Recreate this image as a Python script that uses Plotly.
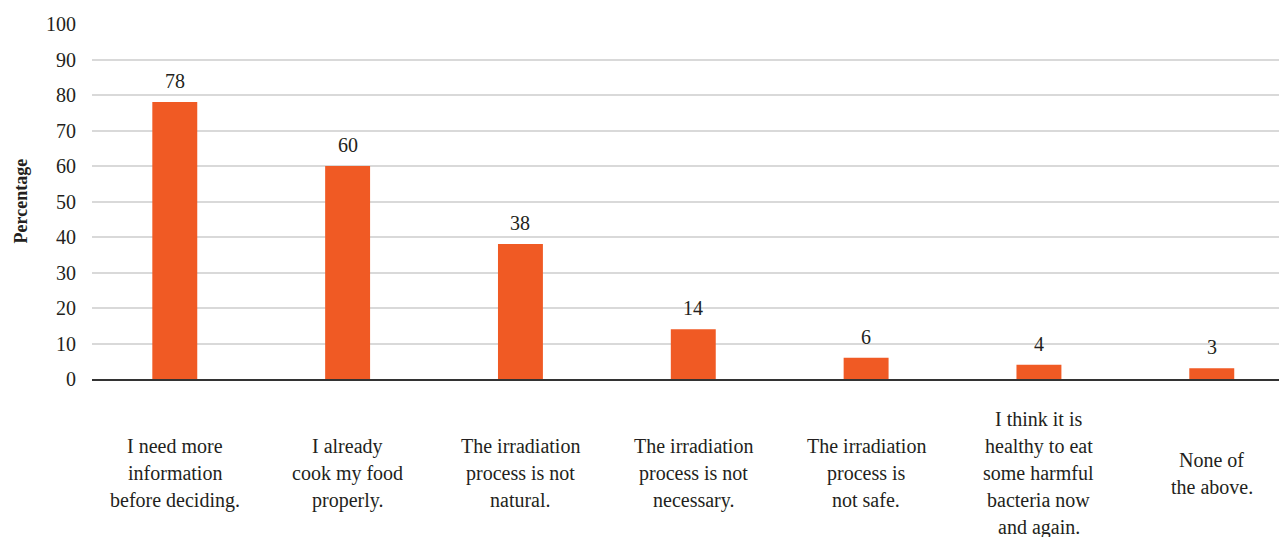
import plotly.graph_objects as go

# Survey reasons and their share of respondents (%)
categories = [
    "I need more<br>information<br>before deciding.",
    "I already<br>cook my food<br>properly.",
    "The irradiation<br>process is not<br>natural.",
    "The irradiation<br>process is not<br>necessary.",
    "The irradiation<br>process is<br>not safe.",
    "I think it is<br>healthy to eat<br>some harmful<br>bacteria now<br>and again.",
    "None of<br>the above.",
]
values = [78, 60, 38, 14, 6, 4, 3]
y_ticks = [0, 10, 20, 30, 40, 50, 60, 70, 80, 90, 100]

FONT = "'Liberation Serif', 'Times New Roman', 'DejaVu Serif', serif"
TEXT = "#231F20"
BAR = "#F05A24"

positions = list(range(len(categories)))

fig = go.Figure(
    go.Bar(
        x=positions,
        y=values,
        width=0.26,
        marker=dict(color=BAR, line=dict(width=0)),
        hoverinfo="skip",
    )
)

annotations = []

# value labels above each bar
for xi, v in zip(positions, values):
    annotations.append(dict(
        x=xi, y=v, xref="x", yref="y", text=str(v), showarrow=False,
        yanchor="middle", yshift=21,
        font=dict(family=FONT, size=20, color=TEXT),
    ))

# category labels below the axis, one annotation per line, centred as a block
line_gap = 27
block_center = 94
for xi, label in zip(positions, categories):
    lines = label.split("<br>")
    n = len(lines)
    for k, line in enumerate(lines):
        offset = block_center + (k - (n - 1) / 2) * line_gap
        annotations.append(dict(
            x=xi, y=0, xref="x", yref="y", text=line, showarrow=False,
            xanchor="center", yanchor="middle", yshift=-offset,
            font=dict(family=FONT, size=20, color=TEXT),
        ))

# y-axis title
annotations.append(dict(
    x=0, y=0.5, xref="paper", yref="paper", text="<b>Percentage</b>",
    showarrow=False, textangle=-90, xanchor="center", yanchor="middle",
    xshift=-72, font=dict(family=FONT, size=18, color=TEXT),
))

fig.update_layout(
    width=1279,
    height=537,
    margin=dict(l=92, r=0, t=24, b=158),
    paper_bgcolor="white",
    plot_bgcolor="white",
    showlegend=False,
    annotations=annotations,
    font=dict(family=FONT, color=TEXT),
    xaxis=dict(
        range=[-0.479, 6.389],
        tickvals=positions,
        showticklabels=False,
        showgrid=False,
        zeroline=False,
        showline=True,
        linecolor="#333333",
        linewidth=2,
        fixedrange=True,
    ),
    yaxis=dict(
        range=[0, 100],
        tickvals=y_ticks,
        ticktext=[str(t) for t in y_ticks],
        showgrid=True,
        gridcolor="#D9D9D9",
        gridwidth=2,
        zeroline=False,
        showline=False,
        ticks="",
        ticklabelstandoff=15,
        tickfont=dict(family=FONT, size=20, color=TEXT),
        fixedrange=True,
    ),
)

fig.write_html("out.html")
